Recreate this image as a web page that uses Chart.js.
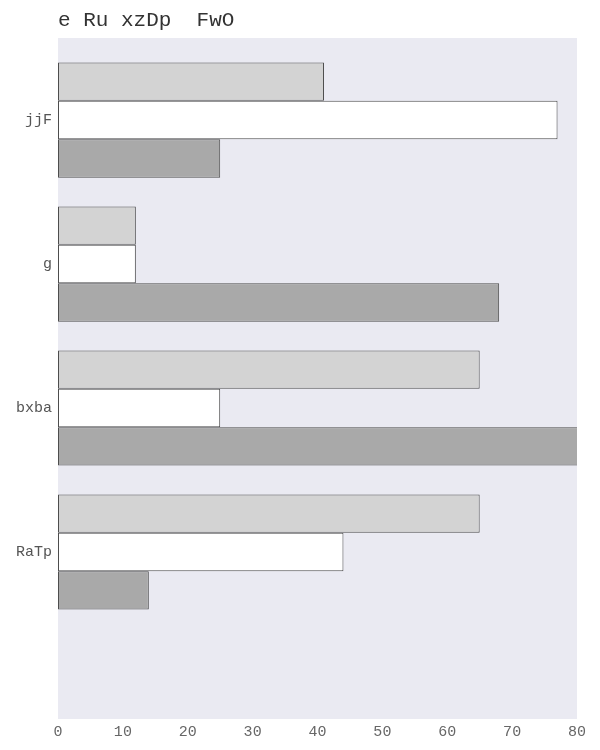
<!DOCTYPE html>
<html>
<head>
<meta charset="utf-8">
<script src="https://cdn.jsdelivr.net/npm/chart.js@4"></script>
<style>
  html, body { margin: 0; padding: 0; background: #fff; }
  #wrap { width: 600px; height: 750px; }
</style>
</head>
<body>
<div id="wrap"><canvas id="chart" width="600" height="750"></canvas></div>
<script>
const chartTitle = "e Ru xzDp  FwO";
const categories = ["jjF", "g", "bxba", "RaTp"];
const seriesA = [41, 12, 65, 65];
const seriesB = [77, 12, 25, 44];
const seriesC = [25, 68, 84, 14];
const xTicks = [0, 10, 20, 30, 40, 50, 60, 70, 80];

const FONT = "'Liberation Mono', 'DejaVu Sans Mono', monospace";

function toPoints(values) {
  return values.map((v, i) => ({ x: v, y: i }));
}

// plot background + title drawn at the plot's left edge
const plotBackground = {
  id: "plotBackground",
  beforeDraw(chart) {
    const { ctx, chartArea } = chart;
    ctx.save();
    ctx.fillStyle = "#eaeaf2";
    ctx.fillRect(chartArea.left, chartArea.top, chartArea.right - chartArea.left, chartArea.bottom - chartArea.top);
    ctx.restore();
  },
  afterDraw(chart) {
    const { ctx, chartArea } = chart;
    ctx.save();
    ctx.fillStyle = "#333";
    ctx.font = "21px " + FONT;
    ctx.textBaseline = "middle";
    ctx.textAlign = "left";
    ctx.fillText(chartTitle, chartArea.left, 20);
    ctx.restore();
  },
};

const barStyle = {
  borderColor: "#4d4d4d",
  borderWidth: 1,
  borderSkipped: false,
  categoryPercentage: 0.8,
  barPercentage: 1.0,
};

new Chart(document.getElementById("chart"), {
  type: "bar",
  data: {
    datasets: [
      { label: "a", data: toPoints(seriesA), backgroundColor: "#d3d3d3", ...barStyle },
      { label: "b", data: toPoints(seriesB), backgroundColor: "#ffffff", ...barStyle },
      { label: "c", data: toPoints(seriesC), backgroundColor: "#a9a9a9", ...barStyle },
    ],
  },
  options: {
    indexAxis: "y",
    responsive: false,
    animation: false,
    layout: { padding: { top: 38, right: 23, bottom: 0, left: 0 } },
    scales: {
      x: {
        type: "linear",
        min: 0,
        max: 80,
        grid: { display: false, drawTicks: false },
        border: { display: false },
        afterBuildTicks: (scale) => {
          scale.ticks = xTicks.map((v) => ({ value: v }));
        },
        afterFit: (scale) => {
          scale.height = 31;
        },
        ticks: {
          color: "#666",
          padding: 4,
          font: { family: FONT, size: 15 },
        },
      },
      y: {
        type: "linear",
        reverse: true,
        offset: false,
        min: -0.57,
        max: 4.16,
        grid: { display: false, offset: false, drawTicks: false },
        border: { display: false },
        afterBuildTicks: (scale) => {
          scale.ticks = categories.map((c, i) => ({ value: i }));
        },
        afterFit: (scale) => {
          scale.width = 58;
        },
        ticks: {
          color: "#555",
          padding: 6,
          font: { family: FONT, size: 15 },
          callback: (value) => categories[value] ?? "",
        },
      },
    },
    plugins: {
      legend: { display: false },
      title: { display: false },
      tooltip: { enabled: false },
    },
  },
  plugins: [plotBackground],
});
</script>
</body>
</html>
